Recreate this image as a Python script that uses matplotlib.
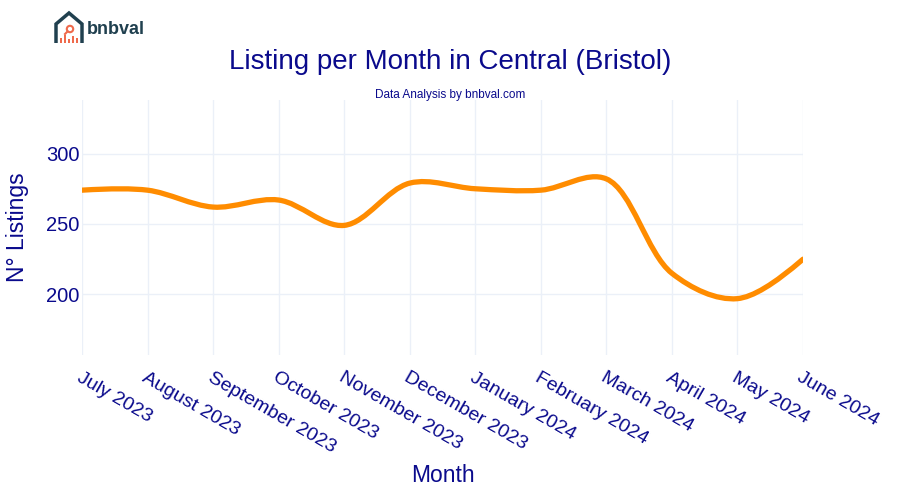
import numpy as np
import matplotlib
matplotlib.use("Agg")
import matplotlib.pyplot as plt
from matplotlib.path import Path
from matplotlib.patches import PathPatch, Polygon, Rectangle, Circle

plt.rcParams["font.family"] = ["Liberation Sans", "DejaVu Sans"]

months = ["July 2023", "August 2023", "September 2023", "October 2023",
          "November 2023", "December 2023", "January 2024", "February 2024",
          "March 2024", "April 2024", "May 2024", "June 2024"]
listings = [274, 274, 262, 267, 249, 279, 275, 274, 282, 215, 197, 225]
yticks = [200, 250, 300]

NAVY = "#0a0a8c"
ORANGE = "#ff8c00"
GRID = "#ebf0f8"


def plotly_spline(ax, xs, ys, smooth=1.0):
    # same tangent rule plotly.js uses for line_shape="spline", done in pixel space
    pts = ax.transData.transform(np.column_stack([xs, ys]))
    tang = []
    for i in range(1, len(pts) - 1):
        p0, p1, p2 = pts[i - 1], pts[i], pts[i + 1]
        d1 = p0 - p1
        d2 = p2 - p1
        d1a = np.hypot(*d1) ** 0.5
        d2a = np.hypot(*d2) ** 0.5
        num = (d2a * d2a * d1 - d1a * d1a * d2) * smooth
        den1 = 3 * d2a * (d1a + d2a)
        den2 = 3 * d1a * (d1a + d2a)
        tang.append((p1 + num / den1, p1 - num / den2))
    verts = [pts[0], tang[0][0], pts[1]]
    codes = [Path.MOVETO, Path.CURVE3, Path.CURVE3]
    for i in range(2, len(pts) - 1):
        verts += [tang[i - 2][1], tang[i - 1][0], pts[i]]
        codes += [Path.CURVE4] * 3
    verts += [tang[-1][1], pts[-1]]
    codes += [Path.CURVE3] * 2
    verts = ax.transData.inverted().transform(np.array(verts))
    return Path(verts, codes)


fig = plt.figure(figsize=(9, 5), dpi=100)
ax = fig.add_axes([82 / 900, 1 - 355 / 500, 721 / 900, 255 / 500])
x = np.arange(len(months))
ax.set_xlim(0, len(months) - 1)
ax.set_ylim(157, 338)

ax.add_patch(PathPatch(plotly_spline(ax, x, listings), fill=False,
                       edgecolor=ORANGE, lw=3.8, capstyle="round",
                       joinstyle="round", zorder=3))

ax.set_xticks(x)
ax.set_xticklabels(months, rotation=-30, ha="left", va="top",
                   rotation_mode="anchor", fontsize=14, color=NAVY)
ax.set_yticks(yticks)
ax.set_yticklabels([str(v) for v in yticks], fontsize=14.5, color=NAVY)
ax.tick_params(length=0)
ax.tick_params(axis="y", pad=2)
ax.tick_params(axis="x", pad=10)
ax.grid(True, color=GRID, lw=1)
ax.set_axisbelow(True)
for s in ax.spines.values():
    s.set_visible(False)

ax.set_xlabel("Month", fontsize=16.5, color=NAVY, labelpad=6)
ax.set_ylabel("N° Listings", fontsize=16.5, color=NAVY, labelpad=12)

fig.text(0.5, 1 - 62 / 500, "Listing per Month in Central (Bristol)",
         ha="center", va="center", fontsize=20, color=NAVY)
fig.text(0.5, 1 - 95 / 500, "Data Analysis by bnbval.com",
         ha="center", va="center", fontsize=8.5, color=NAVY)

# logo
lg = fig.add_axes([0, 0, 1, 1], zorder=-1)
lg.set_xlim(0, 900)
lg.set_ylim(500, 0)
lg.axis("off")
slate = "#20404f"
lg.add_patch(Polygon([[56, 43], [56, 24], [69, 13], [82, 24], [82, 43]],
                     closed=False, fill=False, edgecolor=slate, lw=2.5,
                     joinstyle="miter"))
red = "#ef6a4c"
for bx, bh in [(61, 5), (65, 8), (69, 4), (73, 7), (77, 5)]:
    lg.add_patch(Rectangle((bx - 1.2, 43 - bh), 2.4, bh, color=red, lw=0))
lg.add_patch(Circle((70, 29), 3.2, fill=False, edgecolor=red, lw=1.5))
lg.plot([67.6, 65], [31.4, 34], color=red, lw=1.5)
lg.text(87, 30, "bnbval", fontsize=13, fontweight="bold", color=slate,
        ha="left", va="center")

fig.savefig("out.png", dpi=100)
